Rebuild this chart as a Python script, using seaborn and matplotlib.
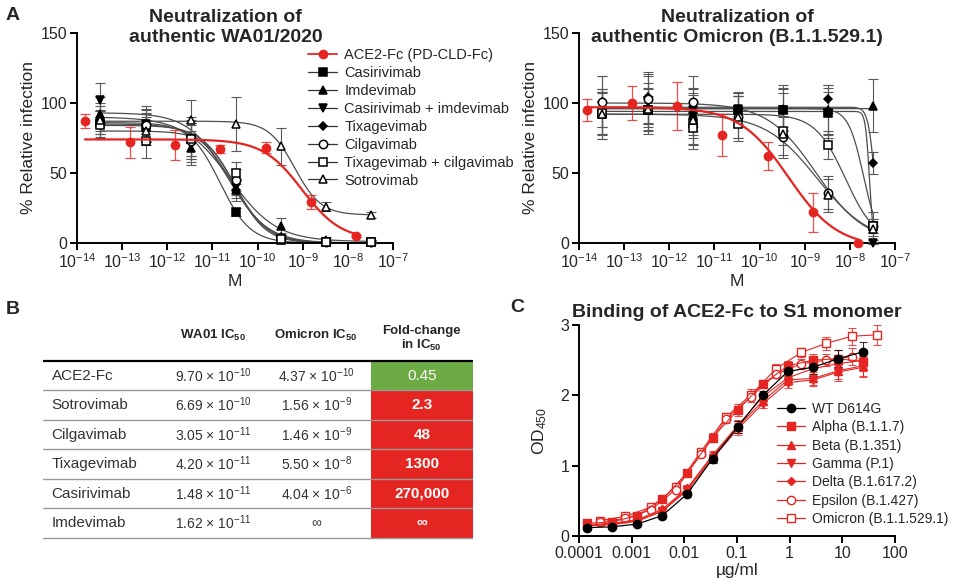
import numpy as np
import matplotlib
matplotlib.use('Agg')
import matplotlib.pyplot as plt
import seaborn as sns
from matplotlib.lines import Line2D
from matplotlib.patches import Rectangle
from matplotlib.ticker import NullLocator

sns.set_style('ticks')
plt.rcParams['font.family'] = ['Liberation Sans', 'DejaVu Sans']
plt.rcParams['mathtext.default'] = 'regular'

RED = '#e52521'
GREEN = '#6dab45'

# ---------------- Panel A: neutralization ----------------
ab_names = ['Casirivimab', 'Imdevimab', 'Casirivimab + imdevimab', 'Tixagevimab',
            'Cilgavimab', 'Tixagevimab + cilgavimab', 'Sotrovimab']
ab_markers = ['s', '^', 'v', 'D', 'o', 's', '^']
ab_sizes = [6, 6, 6, 4, 6, 6, 6]
ab_filled = [True, True, True, True, False, False, False]

ab_conc = [3.3e-14, 3.3e-13, 3.3e-12, 3.3e-11, 3.3e-10, 3.3e-9, 3.3e-8]
ace2_conc = [1.5e-14, 1.5e-13, 1.5e-12, 1.5e-11, 1.5e-10, 1.5e-9, 1.5e-8]

# WA01/2020
wa01_ace2 = [87, 72, 70, 67, 68, 29, 5]
wa01_ace2_sd = [5, 11, 11, 3, 4, 5, 1]
wa01_ace2_fit = [2, 74, 9.7e-10, 1.0]          # bottom, top, IC50, hill

wa01_mean = [[86, 83, 74, 22, 2, 1, 1],
             [92, 86, 68, 38, 12, 2, 1],
             [102, 85, 72, 40, 3, 1, 0],
             [88, 82, 75, 38, 4, 1, 1],
             [85, 84, 73, 45, 3, 1, 1],
             [84, 73, 74, 50, 3, 1, 1],
             [88, 80, 88, 85, 69, 26, 20]]
wa01_sd = [[8, 10, 12, 3, 2, 1, 1],
           [12, 12, 12, 8, 6, 2, 1],
           [12, 10, 12, 6, 3, 1, 1],
           [10, 10, 15, 6, 3, 1, 1],
           [10, 12, 15, 8, 3, 1, 1],
           [10, 12, 12, 8, 3, 1, 1],
           [12, 10, 14, 19, 13, 3, 2]]
wa01_bottom = [0, 1, 0, 0, 0, 0, 20]
wa01_top = [86, 90, 93, 85, 84, 80, 87]
wa01_ic50 = [1.48e-11, 2.5e-11, 2.2e-11, 2.8e-11, 3.05e-11, 3.3e-11, 6.69e-10]
wa01_hill = [1.3, 0.85, 1.0, 1.1, 1.2, 1.3, 1.5]

# Omicron B.1.1.529.1
omi_ace2 = [95, 100, 98, 77, 62, 22, 0]
omi_ace2_sd = [8, 12, 17, 15, 10, 14, 0]
omi_ace2_fit = [-3, 97, 4.37e-10, 0.8]

omi_mean = [[92, 95, 86, 95, 95, 93, 12],
            [93, 96, 92, 95, 96, 95, 98],
            [92, 101, 95, 96, 95, 93, 0],
            [101, 104, 93, 95, 95, 103, 57],
            [101, 103, 101, 90, 76, 36, 12],
            [93, 95, 82, 85, 80, 70, 12],
            [92, 96, 88, 90, 78, 34, 10]]
omi_sd = [[18, 15, 15, 12, 15, 18, 10],
          [15, 15, 15, 12, 15, 18, 19],
          [15, 18, 15, 12, 12, 15, 1],
          [18, 18, 18, 10, 18, 10, 8],
          [18, 18, 18, 15, 15, 12, 5],
          [15, 10, 15, 12, 10, 10, 5],
          [18, 18, 18, 15, 15, 12, 5]]
omi_bottom = [0, 0, 0, 0, 0, 0, 0]
omi_top = [94, 96, 96, 97, 100, 92, 92]
omi_ic50 = [2.7e-8, 1e-3, 2.0e-8, 3.5e-8, 1.8e-9, 8e-9, 1.9e-9]
omi_hill = [10, 1.0, 2.6, 6, 0.8, 1.3, 0.75]

# ---------------- Panel B: table ----------------
tbl_names = ['ACE2-Fc', 'Sotrovimab', 'Cilgavimab', 'Tixagevimab', 'Casirivimab', 'Imdevimab']
tbl_wa01 = ['9.70 × 10$^{-10}$', '6.69 × 10$^{-10}$', '3.05 × 10$^{-11}$',
            '4.20 × 10$^{-11}$', '1.48 × 10$^{-11}$', '1.62 × 10$^{-11}$']
tbl_omi = ['4.37 × 10$^{-10}$', '1.56 × 10$^{-9}$', '1.46 × 10$^{-9}$',
           '5.50 × 10$^{-8}$', '4.04 × 10$^{-6}$', '∞']
tbl_fold = ['0.45', '2.3', '48', '1300', '270,000', '∞']
tbl_fold_color = [GREEN, RED, RED, RED, RED, RED]

# ---------------- Panel C: binding ELISA ----------------
c_names = ['WT D614G', 'Alpha (B.1.1.7)', 'Beta (B.1.351)', 'Gamma (P.1)',
           'Delta (B.1.617.2)', 'Epsilon (B.1.427)', 'Omicron (B.1.1.529.1)']
c_markers = ['o', 's', '^', 'v', 'D', 'o', 's']
c_filled = [True, True, True, True, True, False, False]
wt_conc = [0.000141, 0.000423, 0.00127, 0.00381, 0.0114, 0.0343,
           0.103, 0.309, 0.926, 2.78, 8.33, 25]
new_conc = [0.000254, 0.000762, 0.00229, 0.00686, 0.0206, 0.0617,
            0.185, 0.556, 1.67, 5.0, 15, 45]
wt_od = [0.12, 0.13, 0.17, 0.29, 0.60, 1.10, 1.55, 2.00, 2.34, 2.40, 2.52, 2.62]
alpha_od = [0.18, 0.20, 0.29, 0.52, 0.90, 1.40, 1.79, 2.16, 2.42, 2.50, 2.52, 2.48]
beta_od = [0.15, 0.17, 0.22, 0.36, 0.67, 1.13, 1.55, 1.92, 2.22, 2.24, 2.35, 2.42]
gamma_od = [0.15, 0.16, 0.21, 0.35, 0.65, 1.10, 1.52, 1.88, 2.18, 2.22, 2.33, 2.40]
delta_od = [0.16, 0.18, 0.23, 0.38, 0.68, 1.15, 1.57, 1.98, 2.25, 2.38, 2.45, 2.50]
eps_od = [0.20, 0.25, 0.37, 0.66, 1.16, 1.66, 1.98, 2.30, 2.45, 2.50, 2.55]
omi_od = [0.22, 0.28, 0.41, 0.69, 1.20, 1.69, 2.01, 2.38, 2.61, 2.74, 2.84, 2.86]
c_sd = [0.01, 0.01, 0.02, 0.03, 0.04, 0.06, 0.08, 0.06, 0.07, 0.09, 0.12, 0.14]


def four_pl(x, bottom, top, ic50, hill):
    return bottom + (top - bottom) / (1 + (x / ic50) ** hill)


def style_axis(ax):
    for side in ['left', 'bottom']:
        ax.spines[side].set_linewidth(1.4)
        ax.spines[side].set_color('black')
    sns.despine(ax=ax)
    ax.tick_params(axis='both', length=5, width=1.4, labelsize=11.5, color='black', pad=2)


fig = plt.figure(figsize=(9.58, 5.86), dpi=100)
W, H = 958, 586


def px_axes(x0, y0, x1, y1):
    return fig.add_axes([x0 / W, 1 - y1 / H, (x1 - x0) / W, (y1 - y0) / H])


ax_wa = px_axes(77, 33, 393, 243)
ax_om = px_axes(579, 33, 895, 243)

neut_panels = [
    (ax_wa, 'Neutralization of\nauthentic WA01/2020', 0.47, wa01_ace2, wa01_ace2_sd, wa01_ace2_fit,
     wa01_mean, wa01_sd, wa01_bottom, wa01_top, wa01_ic50, wa01_hill),
    (ax_om, 'Neutralization of\nauthentic Omicron (B.1.1.529.1)', 0.5, omi_ace2, omi_ace2_sd, omi_ace2_fit,
     omi_mean, omi_sd, omi_bottom, omi_top, omi_ic50, omi_hill),
]

for (ax, title, tx, red_y, red_sd, red_fit, means, sds, bots, tops, ic50s, hills) in neut_panels:
    ax.set_xscale('log')
    xs = np.logspace(np.log10(ab_conc[0]), np.log10(ab_conc[-1]), 300)
    for i in range(len(ab_names)):
        sns.lineplot(x=xs, y=four_pl(xs, bots[i], tops[i], ic50s[i], hills[i]),
                     color='0.3', lw=0.9, ax=ax, legend=False, zorder=2)
        ax.errorbar(ab_conc, means[i], yerr=sds[i], fmt='none', ecolor='0.35',
                    elinewidth=0.8, capsize=3.5, capthick=0.8, zorder=3, clip_on=False)
    xr = np.logspace(np.log10(ace2_conc[0]), np.log10(ace2_conc[-1]), 300)
    sns.lineplot(x=xr, y=four_pl(xr, *red_fit), color=RED, lw=1.6, ax=ax, legend=False, zorder=5)
    ax.errorbar(ace2_conc, red_y, yerr=red_sd, fmt='none', ecolor=RED, alpha=0.8,
                elinewidth=0.9, capsize=3.5, capthick=0.9, zorder=5, clip_on=False)
    for i in range(len(ab_names)):
        ax.plot(ab_conc, means[i], ls='none', marker=ab_markers[i], ms=ab_sizes[i],
                mfc='black' if ab_filled[i] else 'white', mec='black', mew=1.1,
                zorder=4, clip_on=False)
    ax.plot(ace2_conc, red_y, ls='none', marker='o', ms=6, color=RED, zorder=6, clip_on=False)

    ax.set_xlim(1e-14, 1e-7)
    ax.set_ylim(0, 150)
    ax.set_yticks([0, 50, 100, 150])
    ax.set_xticks([10.0 ** k for k in range(-14, -6)])
    ax.xaxis.set_minor_locator(NullLocator())
    ax.set_xlabel('M', fontsize=12.5, labelpad=2)
    ax.set_ylabel('% Relative infection', fontsize=12.5, labelpad=3)
    style_axis(ax)
    ax.text(tx, 0.94, title, transform=ax.transAxes, ha='center', va='bottom',
            fontsize=14, fontweight='bold', linespacing=1.18)

# legend for panel A
handles = [Line2D([0], [0], color=RED, marker='o', ms=6, lw=1.3)]
labels = ['ACE2-Fc (PD-CLD-Fc)']
for i in range(len(ab_names)):
    handles.append(Line2D([0], [0], color='0.2', lw=0.9, marker=ab_markers[i], ms=ab_sizes[i],
                          mfc='black' if ab_filled[i] else 'white', mec='black', mew=1.1))
    labels.append(ab_names[i])
fig.legend(handles, labels, loc='upper left', bbox_to_anchor=(308 / W, 1 - 48 / H),
           frameon=False, fontsize=10.5, handlelength=2.0, labelspacing=0.27,
           handletextpad=0.5, borderaxespad=0, borderpad=0)

# ---------------- Panel B: table ----------------
ax_t = px_axes(43, 324, 473, 540)
ax_t.set_xlim(0, 1)
ax_t.set_ylim(6.07, -1.25)
ax_t.axis('off')
col_x = [0.02, 0.395, 0.635, 0.881]
fold_x0 = 0.763
for i in range(len(tbl_names)):
    ax_t.add_patch(Rectangle((fold_x0, i), 1 - fold_x0, 1, facecolor=tbl_fold_color[i],
                             edgecolor='none', zorder=1))
    ax_t.text(col_x[0], i + 0.5, tbl_names[i], ha='left', va='center', fontsize=11, color='#333333')
    ax_t.text(col_x[1], i + 0.5, tbl_wa01[i], ha='center', va='center', fontsize=10, color='#333333')
    ax_t.text(col_x[2], i + 0.5, tbl_omi[i], ha='center', va='center', fontsize=10, color='#333333')
    ax_t.text(col_x[3], i + 0.5, tbl_fold[i], ha='center', va='center', fontsize=11,
              color='white', fontweight='bold' if i else 'normal', zorder=3)
    ax_t.plot([0, 1], [i + 1, i + 1], color='0.6', lw=1.0, zorder=2)
ax_t.plot([0, 1], [0, 0], color='black', lw=1.6, zorder=3)
ax_t.text(col_x[1], -0.85, 'WA01 IC$_{50}$', ha='center', va='center', fontsize=9.5, fontweight='bold')
ax_t.text(col_x[2], -0.85, 'Omicron IC$_{50}$', ha='center', va='center', fontsize=9.5, fontweight='bold')
ax_t.text(col_x[3], -0.75, 'Fold-change\nin IC$_{50}$', ha='center', va='center', fontsize=9.5,
          fontweight='bold', linespacing=1.1)

# ---------------- Panel C ----------------
ax_c = px_axes(579, 325, 895, 536)
ax_c.set_xscale('log')
c_series = [(wt_conc, wt_od), (wt_conc, alpha_od), (wt_conc, beta_od), (wt_conc, gamma_od),
            (wt_conc, delta_od), (new_conc[:11], eps_od), (new_conc, omi_od)]
order = [6, 5, 1, 2, 3, 4, 0]
for i in order:
    xs, ys = c_series[i]
    col = 'black' if i == 0 else RED
    ax_c.errorbar(xs, ys, yerr=c_sd[:len(ys)], fmt='none', ecolor=col, elinewidth=0.8,
                  capsize=3, capthick=0.8, alpha=0.8, zorder=3)
    sns.lineplot(x=xs, y=ys, color=col, lw=0.9 if i == 0 else 0.8, ax=ax_c, legend=False,
                 marker=c_markers[i], markersize=6 if c_markers[i] != 'D' else 4.5,
                 markerfacecolor=col if c_filled[i] else 'white', markeredgecolor=col,
                 markeredgewidth=1.0, zorder=4 if i else 5, clip_on=False)
ax_c.set_xlim(1e-4, 100)
ax_c.set_ylim(0, 3)
ax_c.set_yticks([0, 1, 2, 3])
ax_c.set_xticks([1e-4, 1e-3, 1e-2, 1e-1, 1, 10, 100])
ax_c.set_xticklabels(['0.0001', '0.001', '0.01', '0.1', '1', '10', '100'])
ax_c.xaxis.set_minor_locator(NullLocator())
ax_c.set_xlabel('µg/ml', fontsize=12.5, labelpad=2)
ax_c.set_ylabel('OD$_{450}$', fontsize=12.5, labelpad=8)
style_axis(ax_c)
ax_c.text(0.5, 1.02, 'Binding of ACE2-Fc to S1 monomer', transform=ax_c.transAxes,
          ha='center', va='bottom', fontsize=14, fontweight='bold')

c_handles = []
for i in range(len(c_names)):
    col = 'black' if i == 0 else RED
    c_handles.append(Line2D([0], [0], color=col, lw=0.9, marker=c_markers[i],
                            ms=6 if c_markers[i] != 'D' else 4.5,
                            mfc=col if c_filled[i] else 'white', mec=col, mew=1.0))
fig.legend(c_handles, c_names, loc='upper left', bbox_to_anchor=(777 / W, 1 - 402 / H),
           frameon=False, fontsize=10, handlelength=2.0, labelspacing=0.31,
           handletextpad=0.5, borderaxespad=0, borderpad=0)

# panel letters
fig.text(6 / W, 1 - 15 / H, 'A', fontsize=14, fontweight='bold', va='center')
fig.text(6 / W, 1 - 309 / H, 'B', fontsize=14, fontweight='bold', va='center')
fig.text(510 / W, 1 - 308 / H, 'C', fontsize=14, fontweight='bold', va='center')

fig.savefig('out.png', dpi=100)
